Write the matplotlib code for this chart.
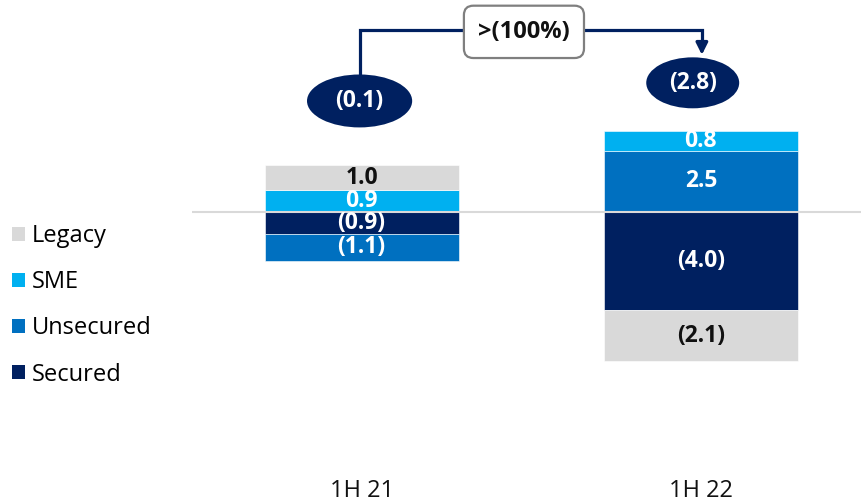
# Ступенчатая диаграмма изменений по сегментам: 1H 21 против 1H 22

import matplotlib.pyplot as plt
from matplotlib.patches import Ellipse, Patch

plt.rcParams['font.family'] = ['Open Sans', 'DejaVu Sans']

periods = ['1H 21', '1H 22']
segments = ['Legacy', 'SME', 'Unsecured', 'Secured']
colors = {'Legacy': '#D9D9D9', 'SME': '#00B0F0',
          'Unsecured': '#0070C0', 'Secured': '#002060'}
label_colors = {'Legacy': '#111111', 'SME': 'white',
                'Unsecured': 'white', 'Secured': 'white'}

# Значения по сегментам; порядок в стопке: от нуля наружу
legacy = [1.0, -2.1]
sme = [0.9, 0.8]
unsecured = [-1.1, 2.5]
secured = [-0.9, -4.0]
values = {'Legacy': legacy, 'SME': sme, 'Unsecured': unsecured, 'Secured': secured}

stack_up = [['SME', 'Legacy'], ['Unsecured', 'SME']]
stack_down = [['Secured', 'Unsecured'], ['Secured', 'Legacy']]
change_label = '>(100%)'

FS = 17


def fmt(v):
    return f'({abs(v):.1f})' if v < 0 else f'{v:.1f}'


fig = plt.figure(figsize=(8.62, 5.03), dpi=100)
ax = fig.add_axes([192 / 862, 33 / 503, 670 / 862, 470 / 503])
ax.set_xlim(-0.5, 1.475)
ax.set_ylim(-10.53, 8.65)
ax.axis('off')

bar_w = 0.572
x = [0, 1]
for i in range(len(periods)):
    for order in (stack_up[i], stack_down[i]):
        base = 0.0
        for seg in order:
            v = values[seg][i]
            ax.bar(x[i], v, bottom=base, width=bar_w, color=colors[seg],
                   edgecolor='white', linewidth=0.4, zorder=2)
            ax.text(x[i], base + v / 2, fmt(v), ha='center', va='center',
                    fontsize=FS - 0.5, fontweight='bold', color=label_colors[seg], zorder=4)
            base += v

ax.axhline(0, color='#D9D9D9', lw=1.5, zorder=3)

# подписи периодов под столбцами
for i, p in enumerate(periods):
    ax.text(x[i], -11.4, p, ha='center', va='center', fontsize=FS,
            color='#111111', clip_on=False)

# итоги в овалах (смещение центра относительно столбца, размеры)
totals = [sum(values[s][i] for s in segments) for i in range(len(periods))]
ovals = [(-0.006, 4.53, 0.31, 2.16), (-0.024, 5.27, 0.274, 2.08)]
for i, (dx, cy, w, h) in enumerate(ovals):
    cx = x[i] + dx
    ax.add_patch(Ellipse((cx, cy), w, h, facecolor='#002060', edgecolor='none', zorder=5))
    ax.text(cx, cy, fmt(totals[i]), ha='center', va='center', fontsize=FS - 0.5,
            fontweight='bold', color='white', zorder=6)

# стрелка между итогами
navy = '#002060'
y_top = 7.43
xl, xr = x[0] - 0.006, x[1] + 0.003
ax.plot([xl, xl, xr, xr], [5.6, y_top, y_top, 6.9],
        color=navy, lw=2.3, solid_joinstyle='miter', zorder=4)
ax.annotate('', xy=(xr, 6.3), xytext=(xr, 7.0),
            arrowprops=dict(arrowstyle='-|>,head_length=0.7,head_width=0.35',
                            color=navy, lw=2.3), zorder=4)
ax.text((xl + xr) / 2 - 0.02, 7.35, change_label, ha='center', va='center', fontsize=FS,
        fontweight='bold', color='#111111', zorder=6,
        bbox=dict(boxstyle='round,pad=0.6,rounding_size=0.4', facecolor='white',
                  edgecolor='#7F7F7F', linewidth=1.6))

handles = [Patch(facecolor=colors[s], edgecolor='none', label=s) for s in segments]
fig.legend(handles=handles, loc='upper left', bbox_to_anchor=(12 / 862, 1 - 224 / 503),
           frameon=False, fontsize=FS, handlelength=0.55, handleheight=0.55,
           handletextpad=0.3, labelspacing=0.94, borderpad=0, borderaxespad=0)

fig.savefig('out.png', dpi=100)
